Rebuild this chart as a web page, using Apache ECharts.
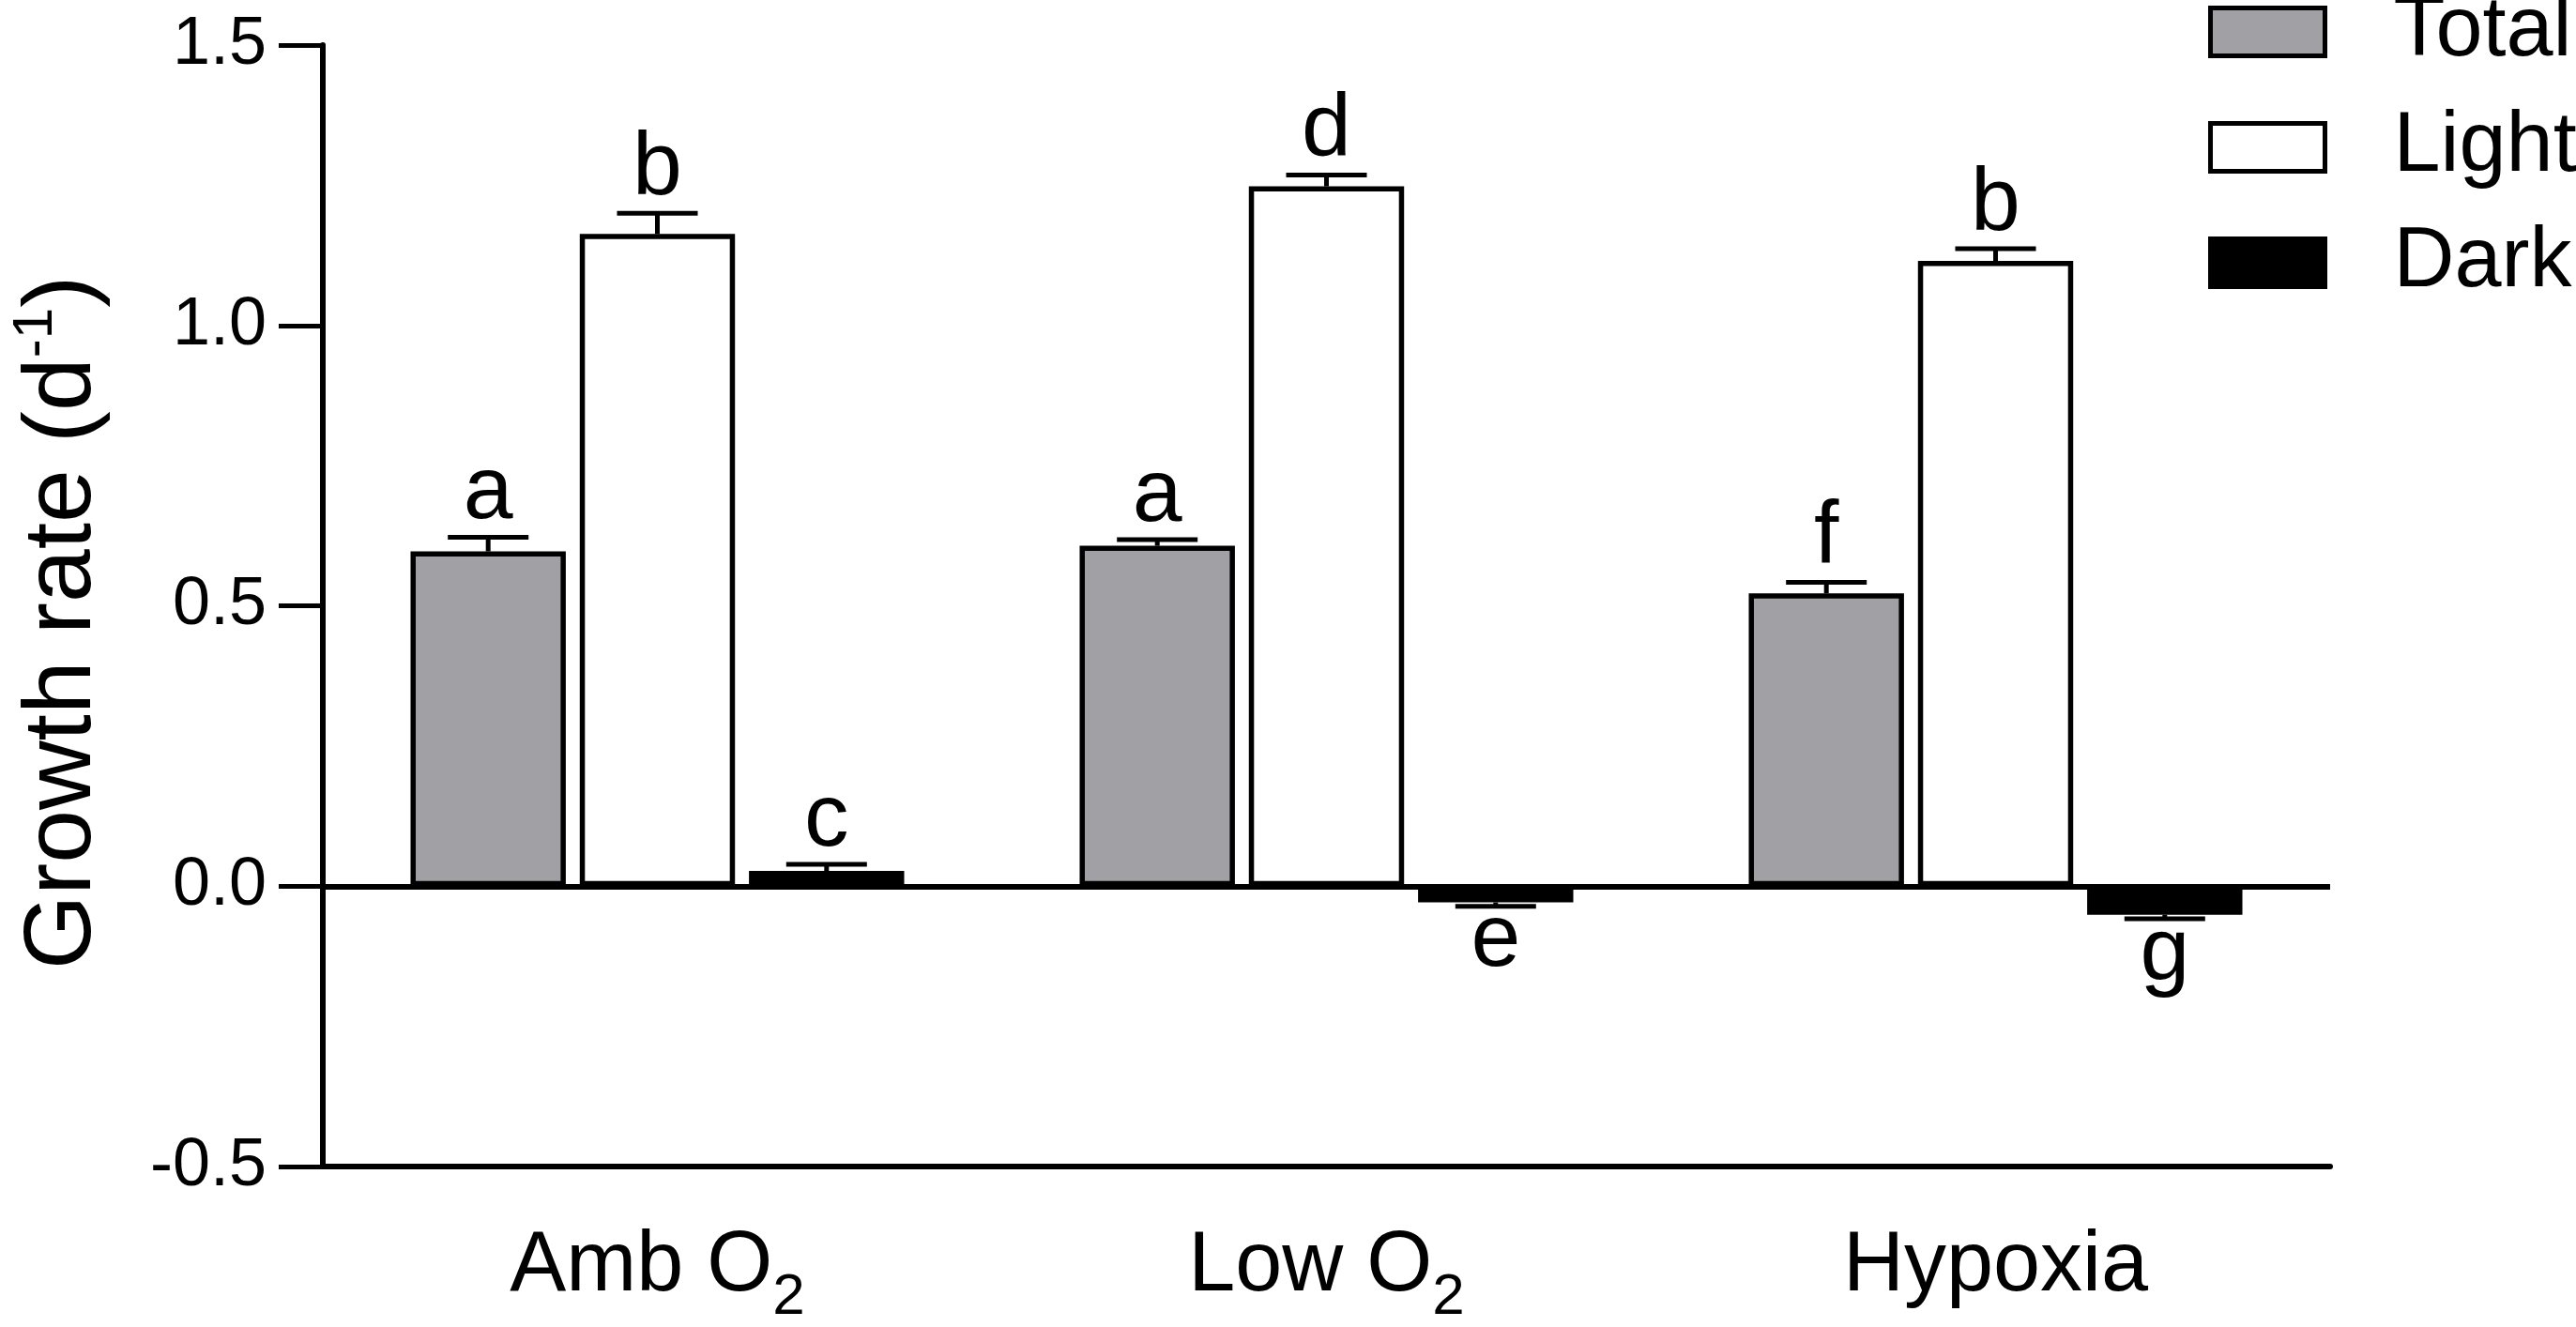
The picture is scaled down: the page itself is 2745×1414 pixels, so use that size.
<!DOCTYPE html>
<html>
<head>
<meta charset="utf-8">
<script src="https://cdn.jsdelivr.net/npm/echarts@6/dist/echarts.min.js"></script>
<style>
html, body { margin: 0; padding: 0; background: #fff; }
#chart { width: 2745px; height: 1414px; }
</style>
</head>
<body>
<div id="chart"></div>
<script>
var categories = ['Amb O2', 'Low O2', 'Hypoxia'];
var seriesNames = ['Total', 'Light', 'Dark'];

var totalVals = [0.597, 0.607, 0.522];
var totalErr = [0.025, 0.011, 0.020];
var totalLetters = ['a', 'a', 'f'];

var lightVals = [1.163, 1.248, 1.115];
var lightErr = [0.037, 0.020, 0.022];
var lightLetters = ['b', 'd', 'b'];

var darkVals = [0.027, -0.029, -0.051];
var darkErr = [0.012, 0.007, 0.007];
var darkLetters = ['c', 'e', 'g'];

var yTicks = [-0.5, 0.0, 0.5, 1.0, 1.5];

var FONT = '"Liberation Sans", Arial, sans-serif';
var chart = echarts.init(document.getElementById('chart'));

var groups = [
	{ name: 'Total', vals: totalVals, err: totalErr, letters: totalLetters, color: '#a1a1a5' },
	{ name: 'Light', vals: lightVals, err: lightErr, letters: lightLetters, color: '#ffffff' },
	{ name: 'Dark', vals: darkVals, err: darkErr, letters: darkLetters, color: '#000000' }
];

var BAR_PCT = 0.232;
var GAP = 0.09;

// error bar + letter for one group
function errRenderer(k, letters) {
	return function(params, api) {
		var i = api.value(0);
		var v = api.value(1);
		var e = api.value(2);
		var band = api.size([1, 0])[0];
		var bw = band * BAR_PCT;
		var off = (k - 1) * bw * (1 + GAP);
		var base = api.coord([i, v]);
		var x = base[0] + off;
		var y0 = base[1];
		var end = v >= 0 ? v + e : v - e;
		var y1 = api.coord([i, end])[1];
		var half = bw * 0.26;
		var txt;
		if (v >= 0) {
			txt = { x: x, y: y1 + 1, align: 'center', verticalAlign: 'bottom' };
		} else {
			txt = { x: x, y: y1 - 10, align: 'center', verticalAlign: 'top' };
		}
		txt.text = letters[i];
		txt.fontSize = 95;
		txt.fontFamily = FONT;
		txt.fill = '#000';
		return {
			type: 'group',
			children: [
				{ type: 'line', shape: { x1: x, y1: y0, x2: x, y2: y1 }, style: { stroke: '#000', lineWidth: 5 } },
				{ type: 'line', shape: { x1: x - half, y1: y1, x2: x + half, y2: y1 }, style: { stroke: '#000', lineWidth: 5 } },
				{ type: 'text', style: txt }
			]
		};
	};
}

var series = [];
groups.forEach(function(g, k) {
	var s = {
		name: g.name,
		type: 'bar',
		data: g.vals,
		barWidth: (BAR_PCT * 100) + '%',
		barGap: (GAP * 100) + '%',
		itemStyle: { color: g.color, borderColor: '#000', borderWidth: 5.5 },
		emphasis: { disabled: true },
		z: 2
	};
	if (k === 0) {
		s.markLine = {
			silent: true,
			symbol: ['none', 'none'],
			label: { show: false },
			lineStyle: { color: '#000', width: 6, type: 'solid' },
			data: [{ yAxis: 0 }]
		};
	}
	series.push(s);
});
groups.forEach(function(g, k) {
	series.push({
		name: g.name + ' err',
		type: 'custom',
		renderItem: errRenderer(k, g.letters),
		data: g.vals.map(function(v, i) { return [i, v, g.err[i]]; }),
		z: 3,
		silent: true
	});
});

var option = {
	backgroundColor: '#fff',
	animation: false,
	grid: {
		left: 340,
		right: 262,
		top: 48,
		bottom: 165
	},
	legend: {
		data: seriesNames,
		orient: 'vertical',
		left: 2353,
		top: -11,
		padding: 0,
		icon: 'rect',
		itemWidth: 122,
		itemHeight: 51,
		itemGap: 33,
		itemStyle: { borderColor: '#000', borderWidth: 5 },
		textStyle: {
			fontSize: 90,
			fontFamily: FONT,
			color: '#000',
			padding: [0, 0, 0, 68]
		}
	},
	xAxis: {
		type: 'category',
		data: categories,
		axisLine: { onZero: false, lineStyle: { color: '#000', width: 6 } },
		axisTick: { alignWithLabel: true, length: 48, lineStyle: { color: '#000', width: 5 } },
		axisLabel: {
			margin: 47,
			formatter: function(v) {
				var m = v.match(/^(.*O)2$/);
				if (m) {
					return '{m|' + m[1] + '}{s|2}';
				}
				return '{m|' + v + '}';
			},
			rich: {
				m: { fontSize: 90, fontFamily: FONT, color: '#000', lineHeight: 120 },
				s: { fontSize: 62, fontFamily: FONT, color: '#000', lineHeight: 54, padding: [66, 0, 0, 0] }
			}
		},
		splitLine: { show: false }
	},
	yAxis: {
		type: 'value',
		min: yTicks[0],
		max: yTicks[yTicks.length - 1],
		interval: 0.5,
		name: '{t|Growth rate (d}{p|-1}{t|)}',
		nameLocation: 'middle',
		nameGap: 216,
		nameTextStyle: {
			padding: [0, 36, 0, 0],
			rich: {
				t: { fontSize: 102, fontFamily: FONT, color: '#000', lineHeight: 120 },
				p: { fontSize: 60, fontFamily: FONT, color: '#000', lineHeight: 60, padding: [0, 0, 60, 0] }
			}
		},
		axisLine: { show: true, lineStyle: { color: '#000', width: 6 } },
		axisTick: { show: true, length: 47, lineStyle: { color: '#000', width: 5 } },
		axisLabel: {
			margin: 60,
			fontSize: 72,
			fontFamily: FONT,
			color: '#000',
			formatter: function(v) { return v.toFixed(1); }
		},
		splitLine: { show: false }
	},
	series: series
};

chart.setOption(option);
</script>
</body>
</html>
